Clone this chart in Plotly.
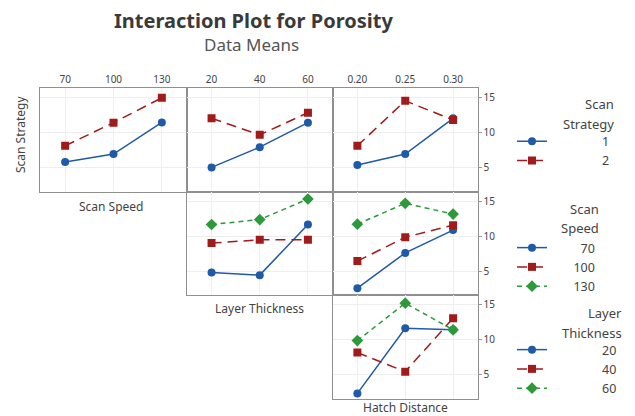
import plotly.graph_objects as go

# ---- factor levels (tick labels) ----
strategy_levels = ["1", "2"]
speed_levels = ["70", "100", "130"]
layer_levels = ["20", "40", "60"]
hatch_levels = ["0.20", "0.25", "0.30"]

# ---- porosity means, one list per trace level ----
# Scan Speed panel, traced by Scan Strategy
speed_strat1 = [5.85, 6.98, 11.5]
speed_strat2 = [8.16, 11.46, 15.0]
# Layer Thickness panel, traced by Scan Strategy
layer_strat1 = [5.08, 7.97, 11.46]
layer_strat2 = [12.08, 9.72, 12.88]
# Hatch Distance panel, traced by Scan Strategy
hatch_strat1 = [5.42, 6.98, 12.08]
hatch_strat2 = [8.16, 14.58, 11.84]
# Layer Thickness panel, traced by Scan Speed
layer_speed70 = [4.86, 4.48, 11.7]
layer_speed100 = [9.05, 9.51, 9.51]
layer_speed130 = [11.7, 12.4, 15.33]
# Hatch Distance panel, traced by Scan Speed
hatch_speed70 = [2.62, 7.65, 10.9]
hatch_speed100 = [6.48, 9.89, 11.6]
hatch_speed130 = [11.75, 14.72, 13.18]
# Hatch Distance panel, traced by Layer Thickness
hatch_layer20 = [2.38, 11.67, 11.43]
hatch_layer40 = [8.19, 5.48, 13.1]
hatch_layer60 = [9.9, 15.24, 11.43]

y_ticks = [5, 10, 15]
y_range = [1.65, 16.4]

W, H = 635, 416
FONT = "Noto Sans"
BLUE, RED, GREEN = "#1f5aa8", "#a11b1b", "#2c9a3a"
STYLES = [
    dict(line=dict(color=BLUE, width=1.5), marker=dict(symbol="circle", size=8, color=BLUE)),
    dict(line=dict(color=RED, width=1.5, dash="10px,6px"), marker=dict(symbol="square", size=8, color=RED)),
    dict(line=dict(color=GREEN, width=1.5, dash="5px,4px"), marker=dict(symbol="diamond", size=9, color=GREEN)),
]

cols = [(40, 186.5), (186.5, 332.5), (332.5, 477.5)]
rows = [(88, 191.5), (191.5, 295), (295, 398.5)]


def xdom(c):
    a, b = cols[c]
    return [a / W, b / W]


def ydom(r):
    t, b = rows[r]
    return [1 - b / H, 1 - t / H]


# (column, row, x tick labels, traced series, trace labels, legend id, label width)
panels = [
    (0, 0, speed_levels, [speed_strat1, speed_strat2], strategy_levels, "legend", 8),
    (1, 0, layer_levels, [layer_strat1, layer_strat2], strategy_levels, None, 0),
    (2, 0, hatch_levels, [hatch_strat1, hatch_strat2], strategy_levels, None, 0),
    (1, 1, layer_levels, [layer_speed70, layer_speed100, layer_speed130], speed_levels, "legend2", 6),
    (2, 1, hatch_levels, [hatch_speed70, hatch_speed100, hatch_speed130], speed_levels, None, 0),
    (2, 2, hatch_levels, [hatch_layer20, hatch_layer40, hatch_layer60], layer_levels, "legend3", 9),
]

fig = go.Figure()
layout = {}
for i, (c, r, xlabels, series, labels, leg, pad) in enumerate(panels, start=1):
    sfx = "" if i == 1 else str(i)
    top = r == 0
    right = c == 2
    layout["xaxis" + sfx] = dict(
        domain=xdom(c), anchor="y" + sfx, range=[-0.52, 2.51],
        tickvals=[0, 1, 2], ticktext=xlabels, side="top",
        showticklabels=top, ticks="",
        tickfont=dict(family=FONT, size=10, color="#444444"),
        showgrid=True, gridcolor="#eeeeee", gridwidth=1, zeroline=False,
        showline=True, mirror=True, linecolor="#8f8f8f", linewidth=1.2, fixedrange=True,
    )
    layout["yaxis" + sfx] = dict(
        domain=ydom(r), anchor="x" + sfx, range=y_range,
        tickvals=y_ticks, side="right",
        showticklabels=right, ticks="outside" if right else "", ticklen=3,
        tickcolor="#999999", tickfont=dict(family=FONT, size=10, color="#444444"),
        showgrid=True, gridcolor="#eeeeee", gridwidth=1, zeroline=False,
        showline=True, mirror=True, linecolor="#8f8f8f", linewidth=1.2, fixedrange=True,
    )
    for k, (vals, lab) in enumerate(zip(series, labels)):
        # figure spaces keep the legend labels right-aligned
        name = "\u2007" * max(pad - len(lab), 0) + lab
        fig.add_trace(go.Scatter(
            x=[0, 1, 2], y=vals, mode="lines+markers", name=name,
            xaxis="x" + sfx, yaxis="y" + sfx,
            legend=leg if leg else "legend",
            showlegend=leg is not None,
            **STYLES[k],
        ))

legend_common = dict(
    xanchor="left", yanchor="top", bgcolor="rgba(0,0,0,0)", borderwidth=0,
    font=dict(family=FONT, size=12.5, color="#444444"), tracegroupgap=0,
    itemclick=False, itemdoubleclick=False,
)
layout["legend"] = dict(x=512 / W, y=1 - 126.5 / H, **legend_common)
layout["legend2"] = dict(x=512 / W, y=1 - 233 / H, **legend_common)
layout["legend3"] = dict(x=512 / W, y=1 - 335 / H, **legend_common)


def ann(text, x, y, size=13, xanchor="center", color="#444444", **kw):
    return dict(text=text, x=x / W, y=1 - y / H, xref="paper", yref="paper",
                xanchor=xanchor, yanchor="middle", showarrow=False,
                font=dict(family=FONT, size=size, color=color), **kw)


annotations = [
    ann("<b>Interaction Plot for Porosity</b>", 253, 20, size=20, color="#3a3a3a"),
    ann("Data Means", 251, 45, size=17, color="#555555"),
    ann("Scan Strategy", 20, 135, size=12, textangle=-90),
    ann("Scan Speed", 111, 206, size=12),
    ann("Layer Thickness", 259, 308, size=12),
    ann("Hatch Distance", 405, 407, size=12),
    ann("Scan", 616, 104, xanchor="right"),
    ann("Strategy", 616, 124, xanchor="right"),
    ann("Scan", 601, 209, xanchor="right"),
    ann("Speed", 601, 228, xanchor="right"),
    ann("Layer", 624, 313, xanchor="right"),
    ann("Thickness", 624, 333, xanchor="right"),
]

fig.update_layout(
    **layout,
    annotations=annotations,
    width=W, height=H,
    margin=dict(l=0, r=0, t=0, b=0),
    paper_bgcolor="white", plot_bgcolor="white",
    showlegend=True,
)

fig.write_html("out.html", config={"displayModeBar": False})
